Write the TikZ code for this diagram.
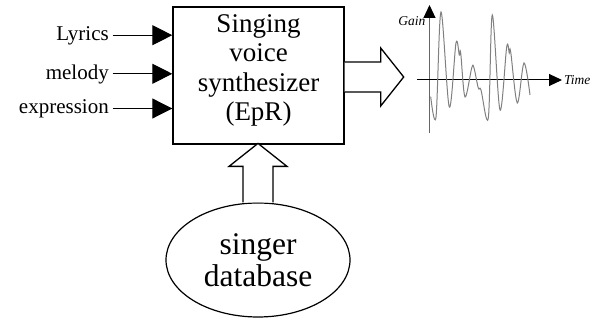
\documentclass[tikz,border=0pt]{standalone}
\usepackage{fontspec}
\setmainfont{Liberation Serif}
\usetikzlibrary{calc, shapes.geometric, arrows.meta}
\tikzset{
    inlabel/.style={anchor=base east, inner sep=0pt,
        font=\fontsize{21}{24}\selectfont},
    inarrow/.style={-{Triangle[length=20pt, width=20pt]}, line width=1pt},
    synthbox/.style={draw, line width=1.4pt, minimum width=171pt,
        minimum height=137pt, align=center, inner sep=0pt, text depth=16pt,
        font=\fontsize{27}{29.4}\selectfont},
    database/.style={draw, ellipse, line width=1.2pt, minimum width=184pt,
        minimum height=114pt, align=center, inner sep=0pt,
        font=\fontsize{31.5}{32}\selectfont},
    axislabel/.style={inner sep=0pt, font=\fontsize{13.5}{16}\selectfont\itshape},
    axistip/.style={-{Triangle[length=13pt, width=12pt, black]}, line width=1pt},
    wave/.style={gray, line width=1pt},
    blockarrow/.pic={
        \draw[line width=1.3pt, line join=miter, fill=white] (0, -15) -- (36, -15)
            -- (36, -29) -- (59, 0) -- (36, 29) -- (36, 15) -- (0, 15);
    },
}

\begin{document}
\begin{tikzpicture}[x=1pt, y=1pt]
        \useasboundingbox (0, 0) rectangle (597, 320);
        \node[synthbox] (synth) at (258.5, 244.5)
            {Singing\\voice\\synthesizer\\(EpR)}; % Synthesizer box
        \node[database] (db) at (258, 60) {singer\\database}; % Database
        \foreach \lbl/\yy [count=\i] in {Lyrics/279.3, melody/240.7, expression/206}{
            \node[inlabel] (in\i) at (109, \yy) {\lbl}; % Input label
            \coordinate (tail\i) at ([shift={(3.5, 5.5)}]in\i.base east);
            \draw[inarrow] (tail\i) -- (tail\i -| synth.west); % Input arrow
        }
        \pic at ([yshift=-1.5pt]synth.east) {blockarrow}; % Output arrow
        \pic[rotate=90] at (db.north) {blockarrow}; % Database arrow
        \coordinate (origin) at (429.5, 240);
        \coordinate (gainstart) at (429.5, 187);
        \coordinate (gainend) at (429.5, 315);
        \coordinate (timestart) at (417, 240);
        \coordinate (timeend) at (562, 240);
        \draw[axistip, black!60] (gainstart) -- (gainend); % Gain axis
        \draw[axistip] (timestart) -- (timeend); % Time axis
        \node[axislabel, anchor=east] (gain) at (425.5, 299) {Gain}; % Gain label
        \node[axislabel, anchor=west] (time) at ([xshift=2pt]timeend) {Time}; % Time label
        \draw[wave] plot[smooth, tension=0.55] coordinates {(430.7, 223.3)
            (436, 203) (441, 308) (449.3, 213) (456, 277) (459.3, 265)
            (460.7, 267) (465, 223) (471.7, 252) (474, 252) (478.3, 232)
            (481, 230) (488.3, 202) (492.3, 305) (500, 210) (506.7, 273)
            (509.3, 267) (510.7, 268) (517.3, 217) (524, 257) (530, 225)}; % Signal
    \end{tikzpicture}
\end{document}
